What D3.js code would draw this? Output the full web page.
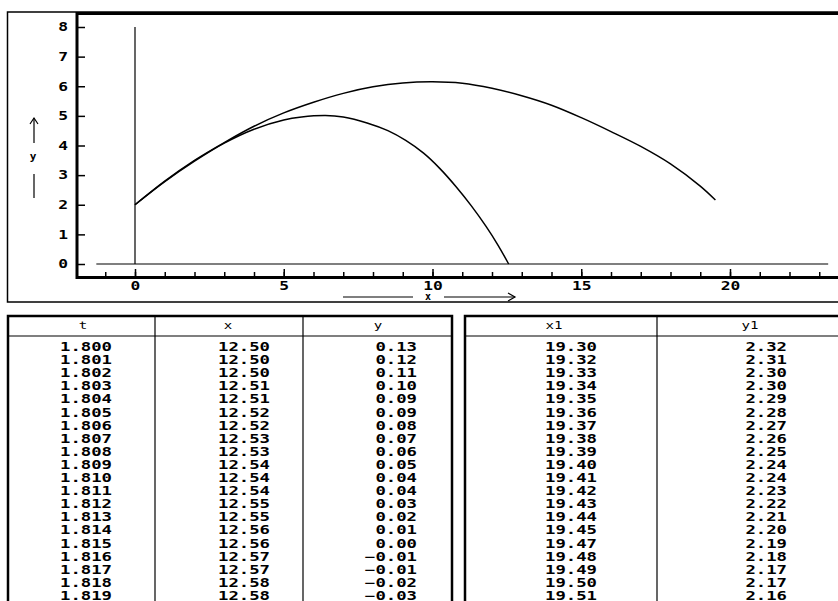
<!DOCTYPE html>
<html>
<head>
<meta charset="utf-8">
<script src="https://cdn.jsdelivr.net/npm/d3@7"></script>
<style>
body{margin:0;background:#fff;}
svg{display:block;}
text{font-family:"DejaVu Sans Mono",monospace;fill:#000;}
</style>
</head>
<body>
<script>
var width = 838, height = 601;

// trajectory 1 (short)
var path1X = [0, 1, 2, 3, 4, 5, 5.6, 6.4, 7.0, 7.8, 8.5, 9.1, 9.7, 10.25, 10.8, 11.3, 11.8, 12.2, 12.56];
var path1Y = [2, 2.78, 3.47, 4.08, 4.55, 4.86, 4.96, 5.01, 4.96, 4.76, 4.50, 4.17, 3.74, 3.22, 2.60, 1.97, 1.27, 0.64, 0];
// trajectory 2 (long)
var path2X = [0, 1, 2, 3, 4, 5, 6, 7, 8, 9, 10, 11, 12, 13, 14, 15, 16, 17, 18, 19, 19.51];
var path2Y = [2, 2.8, 3.5, 4.1, 4.65, 5.10, 5.46, 5.76, 5.98, 6.11, 6.15, 6.10, 5.93, 5.68, 5.36, 4.94, 4.47, 3.97, 3.38, 2.63, 2.16];

var xTicksMajor = [0, 5, 10, 15, 20];
var xTicksMinor = d3.range(-1, 24);
var yTicks = [0, 1, 2, 3, 4, 5, 6, 7, 8];

// table columns
var colT  = ["1.800","1.801","1.802","1.803","1.804","1.805","1.806","1.807","1.808","1.809","1.810","1.811","1.812","1.813","1.814","1.815","1.816","1.817","1.818","1.819"];
var colX  = ["12.50","12.50","12.50","12.51","12.51","12.52","12.52","12.53","12.53","12.54","12.54","12.54","12.55","12.55","12.56","12.56","12.57","12.57","12.58","12.58"];
var colY  = ["0.13","0.12","0.11","0.10","0.09","0.09","0.08","0.07","0.06","0.05","0.04","0.04","0.03","0.02","0.01","0.00","\u22120.01","\u22120.01","\u22120.02","\u22120.03"];
var colX1 = ["19.30","19.32","19.33","19.34","19.35","19.36","19.37","19.38","19.39","19.40","19.41","19.42","19.43","19.44","19.45","19.47","19.48","19.49","19.50","19.51"];
var colY1 = ["2.32","2.31","2.30","2.30","2.29","2.28","2.27","2.26","2.25","2.24","2.24","2.23","2.22","2.21","2.20","2.19","2.18","2.17","2.17","2.16"];

var svg = d3.select("body").append("svg")
    .attr("width", width)
    .attr("height", height);
svg.append("rect").attr("width", width).attr("height", height).attr("fill", "#fff");

var x = d3.scaleLinear().domain([0, 20]).range([135, 730]);
var y = d3.scaleLinear().domain([0, 8]).range([264, 27]);

// ---- plot panel frames ----
svg.append("rect")
    .attr("x", 7.5).attr("y", 12).attr("width", 900).attr("height", 290)
    .attr("fill", "none").attr("stroke", "#000").attr("stroke-width", 1.5);
svg.append("rect")
    .attr("x", 77).attr("y", 13.5).attr("width", 900).attr("height", 264)
    .attr("fill", "none").attr("stroke", "#000").attr("stroke-width", 3);

// axes
var gxMinor = svg.append("g").attr("transform", "translate(0,276)")
    .call(d3.axisBottom(x).tickValues(xTicksMinor).tickSize(-4).tickFormat(""));
var gxMajor = svg.append("g").attr("transform", "translate(0,276)")
    .call(d3.axisBottom(x).tickValues(xTicksMajor).tickSize(-7).tickPadding(5).tickFormat(d3.format("d")));
var gy = svg.append("g").attr("transform", "translate(78,0)")
    .call(d3.axisLeft(y).tickValues(yTicks).tickSize(-7).tickPadding(10).tickFormat(d3.format("d")));
[gxMinor, gxMajor, gy].forEach(function(g){
    g.select(".domain").remove();
    g.selectAll("line").attr("stroke", "#000").attr("stroke-width", 1.5);
    g.selectAll("text")
        .style("font-family", '"DejaVu Sans Mono",monospace')
        .style("font-weight", "bold")
        .style("font-size", "12px")
        .attr("fill", "#000")
        .attr("textLength", function(d){ return String(d).length * 9.8; })
        .attr("lengthAdjust", "spacingAndGlyphs");
});

// zero line and vertical line at x=0
svg.append("line")
    .attr("x1", x(-1.3)).attr("x2", x(23.3)).attr("y1", y(0)).attr("y2", y(0))
    .attr("stroke", "#000").attr("stroke-width", 1.2);
svg.append("line")
    .attr("x1", x(0)).attr("x2", x(0)).attr("y1", y(0)).attr("y2", y(8))
    .attr("stroke", "#000").attr("stroke-width", 1.2);

// trajectories
var line = d3.line()
    .x(function(d){ return x(d[0]); })
    .y(function(d){ return y(d[1]); })
    .curve(d3.curveCatmullRom.alpha(0.5));
[[path1X, path1Y], [path2X, path2Y]].forEach(function(p){
    svg.append("path")
        .datum(d3.zip(p[0], p[1]))
        .attr("d", line)
        .attr("fill", "none")
        .attr("stroke", "#000")
        .attr("stroke-width", 1.5);
});

// axis titles with arrows
var ax = svg.append("g").attr("stroke", "#000").attr("stroke-width", 1.2).attr("fill", "none");
ax.append("line").attr("x1", 34).attr("x2", 34).attr("y1", 143).attr("y2", 118);
ax.append("path").attr("d", "M30,124 L34,118 L38,124");
ax.append("line").attr("x1", 34).attr("x2", 34).attr("y1", 174).attr("y2", 198);
ax.append("line").attr("x1", 343).attr("x2", 413).attr("y1", 297).attr("y2", 297);
ax.append("line").attr("x1", 444).attr("x2", 515).attr("y1", 297).attr("y2", 297);
ax.append("path").attr("d", "M508,293 L515,297 L508,301");
svg.append("text").attr("x", 33).attr("y", 160).attr("text-anchor", "middle")
    .style("font-size", "11px").style("font-weight", "bold").text("y");
svg.append("text").attr("x", 428).attr("y", 300).attr("text-anchor", "middle")
    .style("font-size", "10px").style("font-weight", "bold").text("x");

// ---- tables ----
var rowY = d3.scaleLinear().domain([0, 1]).range([351, 364.1]);
var charW = 10.4;

function drawTable(left, right, dividers, headers, headerX, cols, colRight){
    var g = svg.append("g");
    g.append("rect")
        .attr("x", left).attr("y", 316).attr("width", right - left).attr("height", 320)
        .attr("fill", "none").attr("stroke", "#000").attr("stroke-width", 2.5);
    g.append("line")
        .attr("x1", left).attr("x2", right).attr("y1", 336).attr("y2", 336)
        .attr("stroke", "#000").attr("stroke-width", 1.2);
    dividers.forEach(function(dx){
        g.append("line")
            .attr("x1", dx).attr("x2", dx).attr("y1", 316).attr("y2", 610)
            .attr("stroke", "#000").attr("stroke-width", 1.2);
    });
    headers.forEach(function(h, i){
        g.append("text")
            .attr("x", headerX[i]).attr("y", 329)
            .attr("text-anchor", "middle")
            .style("font-size", "11px")
            .attr("textLength", h.length * 8.5)
            .attr("lengthAdjust", "spacingAndGlyphs")
            .text(h);
    });
    cols.forEach(function(col, i){
        g.selectAll(null)
            .data(col)
            .enter().append("text")
            .attr("x", colRight[i])
            .attr("y", function(d, j){ return rowY(j); })
            .attr("text-anchor", "end")
            .style("font-size", "11.5px")
            .style("font-weight", "bold")
            .attr("textLength", function(d){ return d.length * charW; })
            .attr("lengthAdjust", "spacingAndGlyphs")
            .text(function(d){ return d; });
    });
}

drawTable(8, 452, [155, 303], ["t", "x", "y"], [83, 228, 378],
    [colT, colX, colY], [112, 270, 417]);
drawTable(465, 900, [657], ["x1", "y1"], [554, 750],
    [colX1, colY1], [597, 787]);
</script>
</body>
</html>
